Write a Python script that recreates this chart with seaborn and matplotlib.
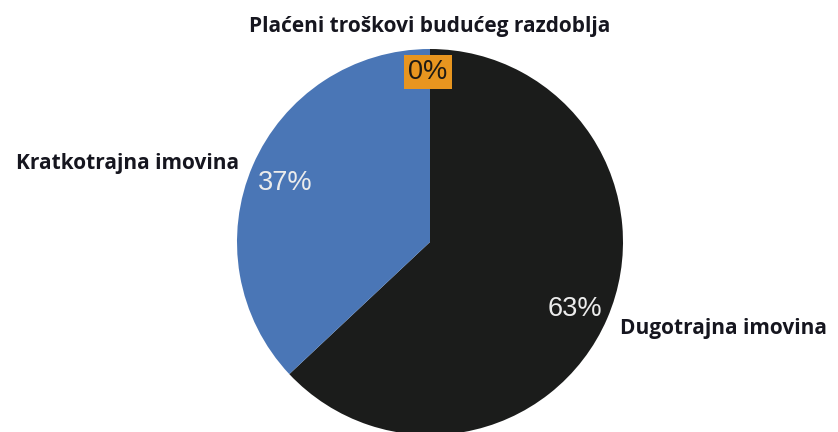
import matplotlib
matplotlib.use("Agg")
import matplotlib.pyplot as plt
import numpy as np
import seaborn as sns

# data
categories = ["Dugotrajna imovina", "Kratkotrajna imovina", "Plaćeni troškovi budućeg razdoblja"]
shares = [63, 37, 0]
pct_labels = ["63%", "37%", "0%"]
colors = ["#1b1c1b", "#4a76b6", "#e8951f"]

sns.set_theme(style="white")
plt.rcParams["font.family"] = ["Open Sans", "DejaVu Sans"]

fig = plt.figure(figsize=(8.38, 4.32), dpi=100)
# square axes so the pie sits where the reference puts it
W, H = 838, 432
cx, cy, r = 430, 242, 193
ax = fig.add_axes([(cx - r) / W, (H - cy - r) / H, 2 * r / W, 2 * r / H])

wedges, _ = ax.pie(shares, colors=colors, startangle=90, counterclock=False,
                   radius=1.0, wedgeprops=dict(linewidth=0))
ax.set_xlim(-1, 1)
ax.set_ylim(-1, 1)
ax.set_aspect("equal")
ax.axis("off")

label_style = dict(fontsize=15, fontweight="bold", color="#16161f")
pct_style = dict(fontsize=19.5, family=["Liberation Sans", "DejaVu Sans"])

for i, w in enumerate(wedges):
    ang = np.deg2rad((w.theta1 + w.theta2) / 2)
    ca, sa = np.cos(ang), np.sin(ang)
    if shares[i] == 0:
        # zero slice: label sits on top, boxed percentage just inside the edge
        ax.text(0, 1.115, categories[i], ha="center", va="center",
                clip_on=False, **label_style)
        ax.text(-0.01, 0.88, pct_labels[i], ha="center", va="center",
                color="#1e1a14", clip_on=False,
                bbox=dict(boxstyle="square,pad=0.15", fc=colors[i], ec="none"),
                **pct_style)
    else:
        ax.text(0.82 * ca, 0.82 * sa - 0.02, pct_labels[i], ha="center", va="center",
                color="#ececec", **pct_style)
        ax.text(1.075 * ca, 1.075 * sa - 0.02, categories[i],
                ha="left" if ca > 0 else "right", va="center",
                clip_on=False, **label_style)

fig.savefig("out.png", dpi=100)
